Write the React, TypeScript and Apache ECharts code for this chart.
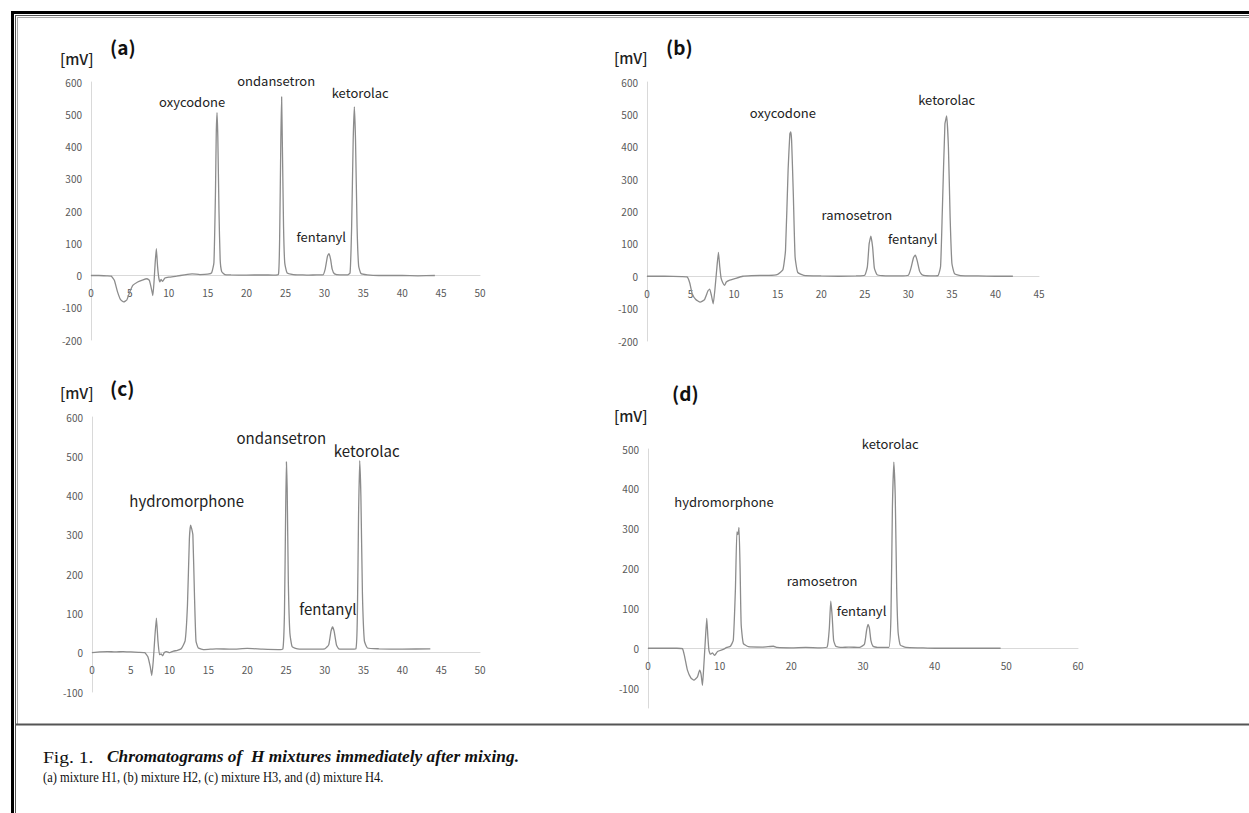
import React, { useEffect, useRef } from "react";
import * as echarts from "echarts";

const W = 1249;
const H = 813;

// Axis ranges for the four chromatograms (a)-(d)
const xMaxes = [50, 45, 50, 60];
const xIntervals = [5, 5, 5, 10];
const yMins = [-200, -200, -100, -150];
const yMaxes = [600, 600, 600, 500];
const yIntervals = [100, 100, 100, 50];

const panelTags = ["(a)", "(b)", "(c)", "(d)"];
const unitLabel = "[mV]";

// retention time [min], signal [mV]
const mixH1: number[][] = [
  [0, 0], [1, 0], [2, -1], [2.6, -2], [3.0, -15], [3.4, -50], [3.8, -75], [4.2, -82], [4.6, -76], [5.0, -50],
  [5.4, -30], [6.0, -20], [6.6, -14], [7.2, -10], [7.5, -15], [7.8, -45], [7.95, -62], [8.1, -20], [8.25, 40],
  [8.4, 83], [8.55, 30], [8.7, -5], [8.85, -20], [9.0, -12], [9.2, -18], [9.5, -8], [10, -5], [11, -2], [12, 2],
  [13, 5], [14, 3], [15, 4], [15.5, 8], [15.8, 40], [16.0, 260], [16.1, 440], [16.2, 505], [16.3, 430],
  [16.45, 200], [16.6, 50], [16.8, 12], [17.2, 3], [18, 2], [20, 1], [22, 2], [23.5, 1], [24.1, 4], [24.25, 120],
  [24.4, 420], [24.5, 554], [24.6, 400], [24.75, 150], [24.9, 40], [25.2, 8], [26, 3], [27, 2], [28, 1], [29, 2],
  [29.8, 2], [30.1, 20], [30.4, 60], [30.6, 68], [30.8, 50], [31.0, 20], [31.3, 5], [32, 2], [33.0, 2], [33.3, 8],
  [33.5, 150], [33.7, 420], [33.85, 523], [34.0, 420], [34.2, 150], [34.4, 30], [34.7, 6], [35.5, 2], [37, 0],
  [40, 0], [42, -1], [44.2, 0],
];

const mixH2: number[][] = [
  [0, 0], [2, 0], [4, -1], [4.6, -2], [4.9, -20], [5.2, -55], [5.6, -72], [6.1, -80], [6.6, -72], [7.0, -45],
  [7.2, -40], [7.4, -60], [7.6, -85], [7.8, -40], [8.0, 20], [8.2, 74], [8.35, 30], [8.5, -5], [8.7, -20],
  [8.9, -28], [9.1, -18], [9.5, -12], [10, -8], [11, 0], [12, 2], [13, 3], [14, 3], [15, 6], [15.6, 20],
  [15.9, 80], [16.2, 330], [16.4, 440], [16.5, 446], [16.6, 420], [16.8, 250], [17.0, 60], [17.3, 12], [18, 3],
  [20, 1], [22, 0], [24, 1], [25.0, 3], [25.3, 30], [25.5, 100], [25.7, 124], [25.9, 90], [26.1, 25], [26.4, 5],
  [27, 2], [29, 1], [30, 3], [30.3, 25], [30.6, 58], [30.8, 65], [31.0, 50], [31.3, 15], [31.6, 4], [32.5, 1],
  [33.4, 2], [33.7, 30], [33.9, 200], [34.2, 470], [34.4, 495], [34.6, 400], [34.8, 180], [35.0, 40], [35.3, 8],
  [36, 2], [38, 1], [40, 0], [42, 0],
];

const mixH3: number[][] = [
  [0, 0], [1, 2], [2, 3], [3, 2], [4, 3], [5, 2], [6, 1], [6.8, 0], [7.2, -10], [7.5, -35], [7.7, -58],
  [7.9, -20], [8.1, 40], [8.3, 88], [8.5, 30], [8.7, -5], [8.9, -3], [9.1, -8], [9.3, 0], [9.6, 3], [10, 0],
  [10.5, 4], [11, 6], [11.5, 10], [12.0, 30], [12.3, 120], [12.55, 290], [12.7, 325], [12.85, 315], [13.0, 300],
  [13.2, 150], [13.4, 30], [13.7, 12], [14.5, 8], [16, 10], [18, 9], [20, 11], [22, 9], [24, 8], [24.6, 10],
  [24.8, 100], [24.95, 350], [25.05, 486], [25.15, 420], [25.3, 180], [25.5, 50], [25.8, 15], [26.5, 10],
  [28, 9], [30, 10], [30.5, 20], [30.8, 55], [31.0, 66], [31.2, 55], [31.5, 20], [31.8, 10], [33, 9],
  [34.0, 10], [34.2, 100], [34.35, 350], [34.5, 489], [34.65, 400], [34.85, 150], [35.1, 30], [35.5, 12],
  [37, 10], [40, 9], [43.6, 10],
];

const mixH4: number[][] = [
  [0, 0], [2, 0], [4, 0], [4.8, -1], [5.1, -20], [5.5, -55], [6.0, -75], [6.4, -80], [6.9, -72], [7.2, -55],
  [7.4, -65], [7.6, -93], [7.8, -40], [8.0, 20], [8.2, 75], [8.35, 30], [8.5, -5], [8.7, -15], [9.0, -12],
  [9.3, -18], [9.7, -8], [10.5, -3], [11, 2], [11.5, 5], [11.9, 20], [12.2, 150], [12.4, 292], [12.55, 285],
  [12.7, 303], [12.85, 200], [13.0, 60], [13.3, 12], [14, 4], [16, 3], [17.5, 5], [18, 2], [20, 1], [22, 2],
  [24, 1], [25.0, 3], [25.3, 50], [25.5, 118], [25.7, 80], [25.9, 20], [26.2, 5], [27, 2], [28, 3], [29.5, 2],
  [30.2, 10], [30.5, 45], [30.7, 60], [30.9, 50], [31.1, 20], [31.4, 5], [32, 2], [33.6, 2], [33.9, 80],
  [34.1, 350], [34.3, 467], [34.5, 380], [34.7, 150], [34.9, 40], [35.2, 8], [36, 2], [38, 1], [40, 0],
  [45, 0], [49.2, 0],
];

const mixtures = [mixH1, mixH2, mixH3, mixH4];

// Peak annotations (name, [time, mV] anchor of the label centre)
const peakNames = [
  ["oxycodone", "ondansetron", "fentanyl", "ketorolac"],
  ["oxycodone", "ramosetron", "fentanyl", "ketorolac"],
  ["hydromorphone", "ondansetron", "fentanyl", "ketorolac"],
  ["hydromorphone", "ramosetron", "fentanyl", "ketorolac"],
];
const peakLabelAt = [
  [[13.0, 539], [23.8, 605], [29.6, 121], [34.6, 567]],
  [[15.6, 505], [24.1, 190], [30.5, 116], [34.4, 545]],
  [[12.2, 387], [24.4, 547], [30.4, 112], [35.4, 514]],
  [[10.6, 369], [24.3, 171], [29.8, 95], [33.8, 515]],
];

const captionLead = "Fig. 1.";
const captionItalic = "Chromatograms of  H mixtures immediately after mixing.";
const captionLine2 = "(a) mixture H1, (b) mixture H2, (c) mixture H3, and (d) mixture H4.";

const FONT = "'Noto Sans CJK KR', 'Noto Sans', sans-serif";
const SERIF = "'Liberation Serif', serif";

export default function App() {
  const ref = useRef<HTMLDivElement>(null);
  useEffect(() => {
    if (!ref.current) return;
    const chart = echarts.init(ref.current, undefined, { renderer: "svg" });

    const grids = [
      { left: 91, top: 82, width: 389, height: 258 },
      { left: 647, top: 82, width: 392, height: 259 },
      { left: 92, top: 417, width: 388, height: 275 },
      { left: 648, top: 449, width: 430, height: 259 },
    ];
    const peakFont = [13, 13, 15, 13];

    // x axis drawn through y = 0: shift the bottom axis up by the zero's share of the grid height
    const xAxis = mixtures.map((_, i) => ({
      type: "value",
      gridIndex: i,
      min: 0,
      max: xMaxes[i],
      interval: xIntervals[i],
      position: "bottom",
      offset: -(grids[i].height * (0 - yMins[i])) / (yMaxes[i] - yMins[i]),
      axisLine: { show: true, onZero: false, lineStyle: { color: "#d9d9d9", width: 1 } },
      axisTick: { show: false },
      splitLine: { show: false },
      axisLabel: { color: "#595959", fontSize: 10, margin: 12, fontFamily: FONT },
    }));
    const yAxis = mixtures.map((_, i) => ({
      type: "value",
      gridIndex: i,
      min: yMins[i],
      max: yMaxes[i],
      interval: yIntervals[i],
      axisLine: { show: true, onZero: false, lineStyle: { color: "#d9d9d9", width: 1 } },
      axisTick: { show: false },
      splitLine: { show: false },
      axisLabel: {
        color: "#595959",
        fontSize: 10,
        margin: 9,
        fontFamily: FONT,
        formatter: (v: number) => (v % 100 === 0 ? String(v) : ""),
      },
    }));
    const series = mixtures.map((d, i) => ({
      type: "line",
      xAxisIndex: i,
      yAxisIndex: i,
      data: d,
      showSymbol: false,
      smooth: 0.15,
      lineStyle: { color: "#8c8c8c", width: 1.3 },
      silent: true,
      z: 3,
    }));

    chart.setOption({
      animation: false,
      backgroundColor: "#ffffff",
      grid: grids,
      xAxis,
      yAxis,
      series,
    });

    const graphic: any[] = [];
    // frame
    graphic.push(
      { type: "line", shape: { x1: 11, y1: 12.5, x2: W, y2: 12.5 }, style: { stroke: "#000", lineWidth: 3 } },
      { type: "line", shape: { x1: 12.5, y1: 11, x2: 12.5, y2: H }, style: { stroke: "#000", lineWidth: 3 } },
      { type: "line", shape: { x1: 15, y1: 15.5, x2: W, y2: 15.5 }, style: { stroke: "#555", lineWidth: 1 } },
      { type: "line", shape: { x1: 15.5, y1: 15, x2: 15.5, y2: H }, style: { stroke: "#555", lineWidth: 1 } },
      { type: "line", shape: { x1: 17, y1: 17.5, x2: W, y2: 17.5 }, style: { stroke: "#aaa", lineWidth: 1 } },
      { type: "line", shape: { x1: 17.5, y1: 17, x2: 17.5, y2: 724 }, style: { stroke: "#aaa", lineWidth: 1 } },
      { type: "line", shape: { x1: 15, y1: 724.5, x2: W, y2: 724.5 }, style: { stroke: "#555", lineWidth: 2 } }
    );

    // panel headers
    const unitPos = [[60, 58], [614, 57], [60, 392], [614, 415]];
    const tagPos = [[110, 46], [666, 46], [110, 387], [672, 392]];
    for (let i = 0; i < 4; i++) {
      graphic.push({
        type: "text",
        x: unitPos[i][0],
        y: unitPos[i][1],
        style: {
          text: unitLabel,
          font: `500 15px ${FONT}`,
          fill: "#222",
          textAlign: "left",
          textVerticalAlign: "middle",
        },
      });
      graphic.push({
        type: "text",
        x: tagPos[i][0],
        y: tagPos[i][1],
        style: {
          text: panelTags[i],
          font: `bold 19px ${FONT}`,
          fill: "#111",
          textAlign: "left",
          textVerticalAlign: "middle",
        },
      });
      // peak labels placed through the axis scales
      peakNames[i].forEach((name, k) => {
        const p = chart.convertToPixel({ gridIndex: i } as any, peakLabelAt[i][k]) as number[];
        graphic.push({
          type: "text",
          x: p[0],
          y: p[1],
          style: {
            text: name,
            font: `${peakFont[i]}px ${FONT}`,
            fill: "#222",
            textAlign: "center",
            textVerticalAlign: "middle",
          },
        });
      });
    }

    // caption
    graphic.push({
      type: "text",
      x: 43,
      y: 757,
      scaleX: 1.15,
      style: {
        text: captionLead,
        font: `17px ${SERIF}`,
        fill: "#111",
        textVerticalAlign: "middle",
      },
    });
    graphic.push({
      type: "text",
      x: 107,
      y: 757,
      scaleX: 1.02,
      style: {
        text: captionItalic,
        font: `italic bold 17px ${SERIF}`,
        fill: "#111",
        textVerticalAlign: "middle",
      },
    });
    graphic.push({
      type: "text",
      x: 43,
      y: 777,
      scaleX: 0.89,
      style: {
        text: captionLine2,
        font: `14px ${SERIF}`,
        fill: "#111",
        textVerticalAlign: "middle",
      },
    });

    chart.setOption({ graphic });

    return () => chart.dispose();
  }, []);

  return (
    <div
      ref={ref}
      style={{ position: "absolute", left: 0, top: 0, width: W, height: H, background: "#fff" }}
    />
  );
}
